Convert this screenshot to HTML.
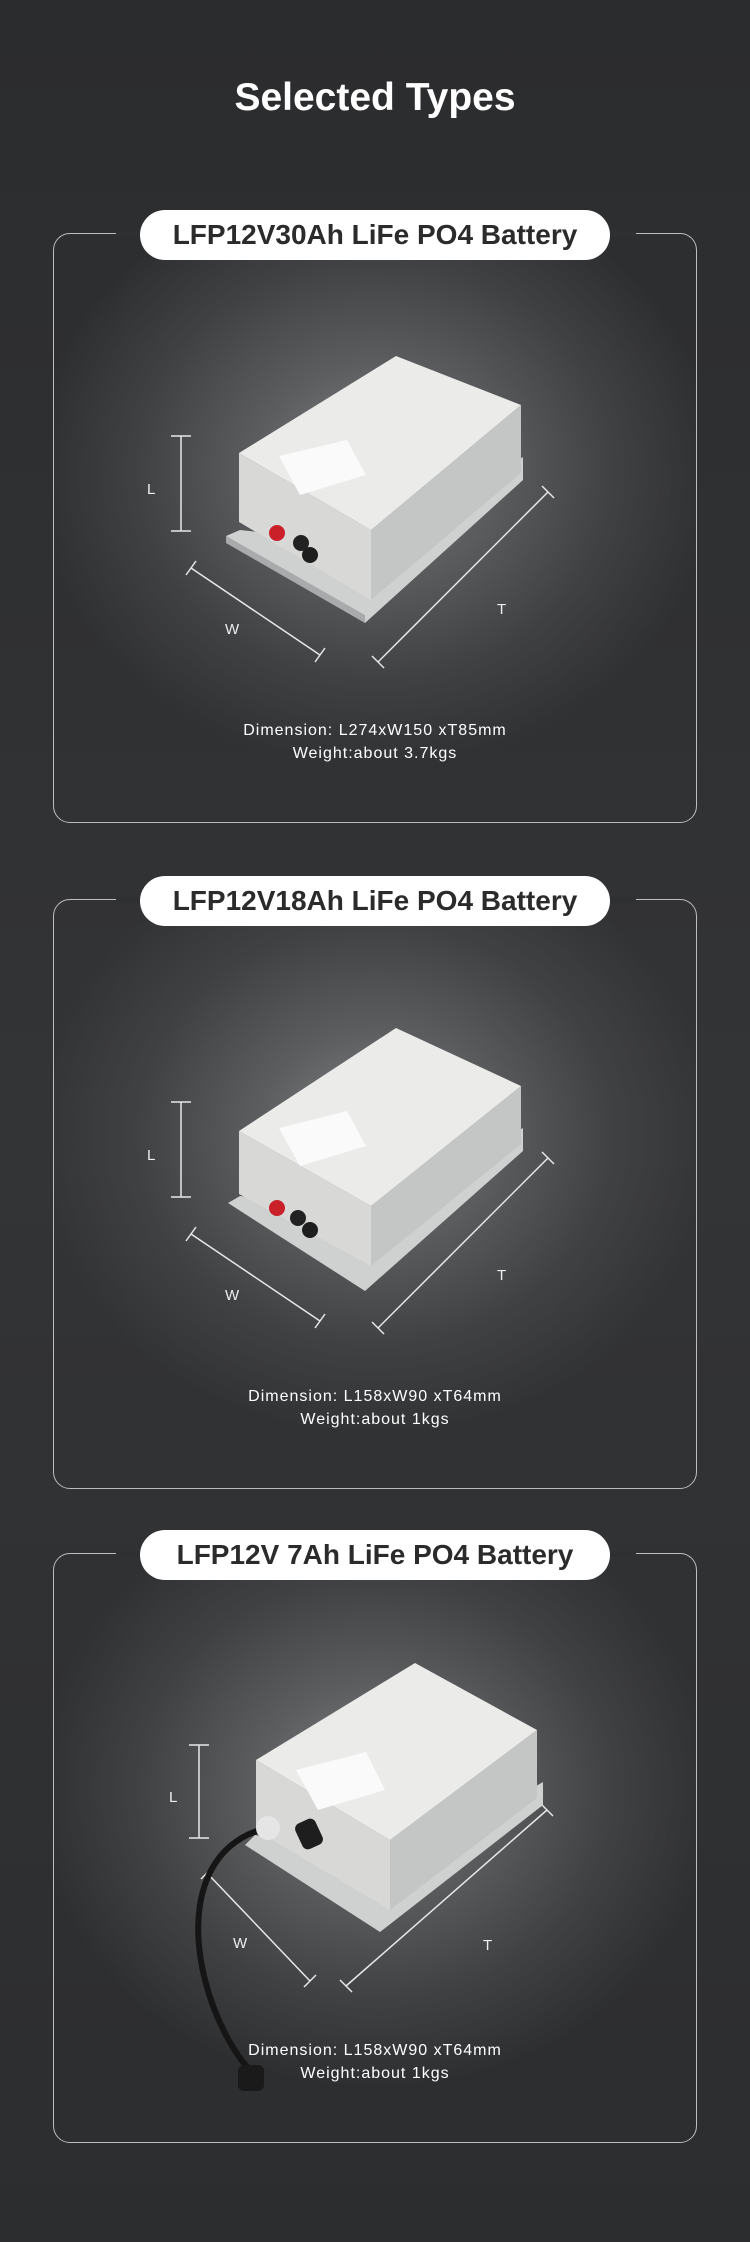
<!DOCTYPE html>
<html><head><meta charset="utf-8"><style>
html,body{margin:0;padding:0;}
body{width:750px;height:2242px;background:#2f3032;position:relative;overflow:hidden;font-family:"Liberation Sans",sans-serif;}
.bg{position:absolute;left:0;top:0;width:750px;height:2242px;background:linear-gradient(#2b2c2e,#333436 50%,#2c2d2f);}
h1{position:absolute;top:73px;left:0;width:750px;margin:0;text-align:center;color:#fff;font-size:39px;font-weight:bold;line-height:50px;}
.panel{position:absolute;left:53px;width:644px;height:590px;}
.glow{position:absolute;left:0;top:0;width:644px;height:590px;border-radius:17px;background:radial-gradient(ellipse 340px 300px at 50% 40%,#838486 0%,#5c5d5f 35%,#404143 70%,rgba(50,51,53,0) 100%);}
.frame{position:absolute;left:0;top:0;width:642px;height:588px;border:1px solid #bdbdbd;border-radius:17px;}
.gap{position:absolute;left:62px;top:-3px;width:520px;height:6px;background:#2f3032;}
.pill{position:absolute;left:87px;top:-23px;width:470px;height:50px;background:#fff;border-radius:25px;text-align:center;font-weight:bold;font-size:28px;line-height:50px;color:#2b2b2b;}
.dim{position:absolute;left:0;width:644px;text-align:center;color:#fff;font-size:16px;line-height:23px;letter-spacing:1px;}
svg{position:absolute;left:0;top:0;}
</style></head><body>
<div class="bg"></div>
<h1>Selected Types</h1>

<!-- Panel 1 -->
<div class="panel" style="top:233px">
<div class="glow"></div><div class="frame"><div class="gap"></div></div>
<div class="pill">LFP12V30Ah LiFe PO4 Battery</div>
<svg width="644" height="590" viewBox="53 233 644 590">
<g stroke="#e8e8e8" stroke-width="1.5" fill="none">
<line x1="181" y1="436" x2="181" y2="531"/><line x1="171" y1="436" x2="191" y2="436"/><line x1="171" y1="531" x2="191" y2="531"/>
<line x1="191" y1="568" x2="320" y2="655"/><line x1="186" y1="575" x2="196" y2="561"/><line x1="315" y1="662" x2="325" y2="648"/>
<line x1="378" y1="662" x2="548" y2="492"/><line x1="372" y1="656" x2="384" y2="668"/><line x1="542" y1="486" x2="554" y2="498"/>
</g>
<g font-size="15" fill="#eee"><text x="147" y="494">L</text><text x="225" y="634">W</text><text x="497" y="614">T</text></g>
<polygon points="226,536 365,623 523,480 523,457 380,545 240,530" fill="#cfd0d0"/>
<polygon points="226,536 365,615 365,623 226,543" fill="#a9aaab"/>
<polygon points="239,453 371,530 371,600 239,522" fill="#d8d8d7"/>
<polygon points="371,530 521,405 521,473 371,600" fill="#c4c5c5"/>
<polygon points="239,453 396,356 521,405 371,530" fill="#ebebea"/>
<polygon points="279,456 347,440 366,475 300,495" fill="#fafafa"/>
<circle cx="277" cy="533" r="8" fill="#c9202a"/><circle cx="301" cy="543" r="8" fill="#222"/><circle cx="310" cy="555" r="8" fill="#1e1e1e"/>
</svg>
<div class="dim" style="top:486px">Dimension: L274xW150 xT85mm</div>
<div class="dim" style="top:509px">Weight:about 3.7kgs</div>
</div>

<!-- Panel 2 -->
<div class="panel" style="top:899px">
<div class="glow"></div><div class="frame"><div class="gap"></div></div>
<div class="pill">LFP12V18Ah LiFe PO4 Battery</div>
<svg width="644" height="590" viewBox="53 233 644 590">
<g stroke="#e8e8e8" stroke-width="1.5" fill="none">
<line x1="181" y1="436" x2="181" y2="531"/><line x1="171" y1="436" x2="191" y2="436"/><line x1="171" y1="531" x2="191" y2="531"/>
<line x1="191" y1="568" x2="320" y2="655"/><line x1="186" y1="575" x2="196" y2="561"/><line x1="315" y1="662" x2="325" y2="648"/>
<line x1="378" y1="662" x2="548" y2="492"/><line x1="372" y1="656" x2="384" y2="668"/><line x1="542" y1="486" x2="554" y2="498"/>
</g>
<g font-size="15" fill="#eee"><text x="147" y="494">L</text><text x="225" y="634">W</text><text x="497" y="614">T</text></g>
<polygon points="228,537 365,625 523,485 523,462 380,550 240,530" fill="#cfd0d0"/>
<polygon points="239,465 371,540 371,600 239,528" fill="#d8d8d7"/>
<polygon points="371,540 521,420 521,478 371,600" fill="#c4c5c5"/>
<polygon points="239,465 396,362 521,420 371,540" fill="#ebebea"/>
<polygon points="279,462 347,445 366,480 300,500" fill="#fafafa"/>
<circle cx="277" cy="542" r="8" fill="#c9202a"/><circle cx="298" cy="552" r="8" fill="#222"/><circle cx="310" cy="564" r="8" fill="#1e1e1e"/>
</svg>
<div class="dim" style="top:486px">Dimension: L158xW90 xT64mm</div>
<div class="dim" style="top:509px">Weight:about 1kgs</div>
</div>

<!-- Panel 3 -->
<div class="panel" style="top:1553px">
<div class="glow"></div><div class="frame"><div class="gap"></div></div>
<div class="pill">LFP12V 7Ah LiFe PO4 Battery</div>
<svg width="644" height="590" viewBox="53 233 644 590">
<g stroke="#e8e8e8" stroke-width="1.5" fill="none">
<line x1="199" y1="425" x2="199" y2="518"/><line x1="189" y1="425" x2="209" y2="425"/><line x1="189" y1="518" x2="209" y2="518"/>
<line x1="207" y1="553" x2="310" y2="661"/><line x1="201" y1="559" x2="213" y2="547"/><line x1="304" y1="667" x2="316" y2="655"/>
<line x1="346" y1="666" x2="547" y2="490"/><line x1="340" y1="660" x2="352" y2="672"/><line x1="541" y1="484" x2="553" y2="496"/>
</g>
<g font-size="15" fill="#eee"><text x="169" y="482">L</text><text x="233" y="628">W</text><text x="483" y="630">T</text></g>
<polygon points="245,525 380,612 543,485 543,462 400,545 255,515" fill="#cfd0d0"/>
<polygon points="256,440 390,520 390,590 256,510" fill="#d8d8d7"/>
<polygon points="390,520 537,410 537,478 390,590" fill="#c4c5c5"/>
<polygon points="256,440 415,343 537,410 390,520" fill="#ebebea"/>
<polygon points="296,450 366,432 385,470 318,490" fill="#fafafa"/>
<rect x="298" y="500" width="22" height="28" rx="6" fill="#1e1e1e" transform="rotate(-25 309 514)"/>
<path d="M268,508 C210,520 185,580 205,660 C215,700 235,735 250,750" stroke="#151515" stroke-width="6" fill="none"/>
<circle cx="268" cy="508" r="12" fill="#e5e5e5"/>
<rect x="238" y="745" width="26" height="26" rx="6" fill="#1a1a1a"/>
</svg>
<div class="dim" style="top:486px">Dimension: L158xW90 xT64mm</div>
<div class="dim" style="top:509px">Weight:about 1kgs</div>
</div>
</body></html>
